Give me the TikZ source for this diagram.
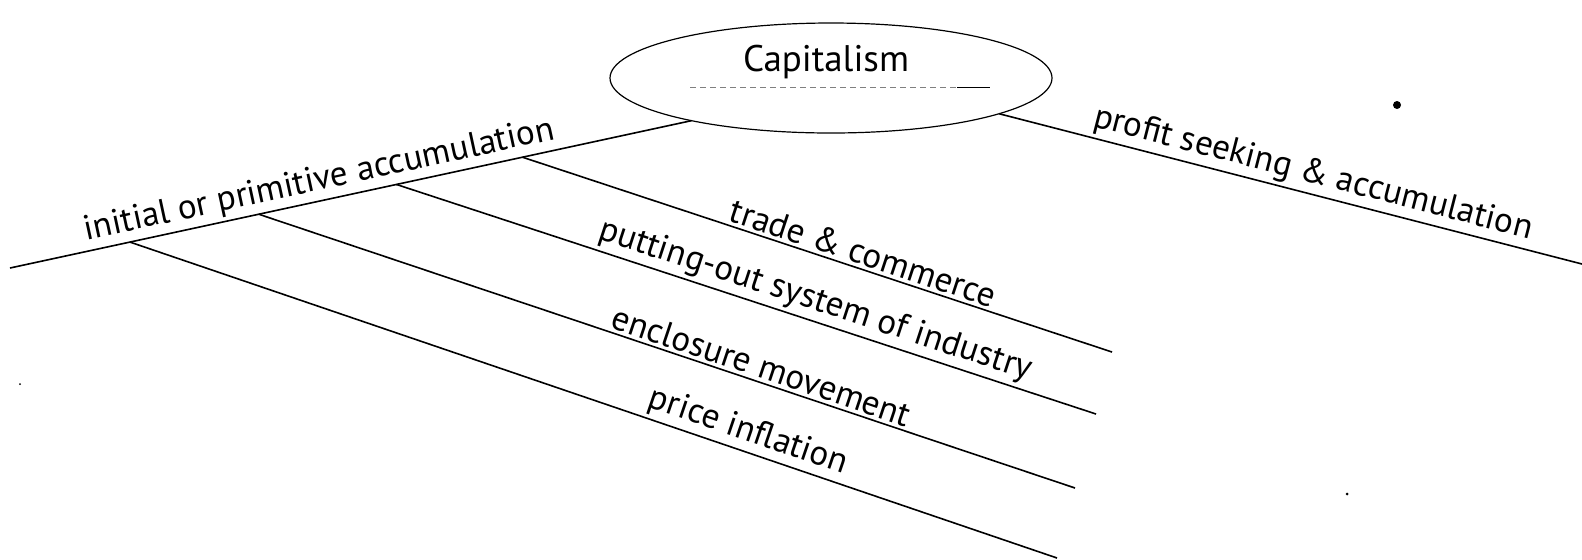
\documentclass[tikz,border=0pt]{standalone}
\usepackage{fontspec}
\setmainfont{PT Sans}
\usetikzlibrary{shapes.geometric}

\begin{document}
\begin{tikzpicture}[x = .5pt, y = -.5pt, line width = .8pt,
    every node/.style = {font = \fontsize{17.5}{20}\selectfont},
    lbl/.style = {sloped, above, inner sep = 1.5pt}]
    \useasboundingbox (0, 0) rectangle (1582, 559);

    \node (cap) [ellipse, draw, line width = .6pt, minimum width = 221pt, minimum height = 55pt, inner sep = 0pt, outer sep = 0pt] at (831, 78) {};
    \node (captext) at (826, 62) {\fontsize{18.5}{21}\selectfont Capitalism};
    \draw[densely dashed, line width = .4pt, gray] (690, 87) -- (957, 87);
    \draw[line width = .5pt] (957, 87) -- (990, 87);

    \coordinate (ia) at (10, 268);
    \coordinate (pr) at (1582, 264);

    % the two main limbs
    \draw (ia) -- (cap.197) node[lbl, pos = .46] {initial or primitive accumulation};
    \draw (cap.-12) -- (pr) node[lbl, pos = .53] {profit seeking \& accumulation};

    % roots of the branches on the left limb
    \path (ia) -- (cap.197)
        coordinate[pos = .752] (tc)
        coordinate[pos = .567] (po)
        coordinate[pos = .365] (em)
        coordinate[pos = .176] (pi);

    \coordinate (tcend) at (1112, 352);
    \coordinate (poend) at (1096, 414);
    \coordinate (emend) at (1075, 488);
    \coordinate (piend) at (1057, 558);

    \draw (tc) -- (tcend) node[lbl, pos = .57] {trade \& commerce};
    \draw (po) -- (poend) node[lbl, pos = .59] {putting-out system of industry};
    \draw (em) -- (emend) node[lbl, pos = .61] {enclosure movement};
    \draw (pi) -- (piend) node[lbl, pos = .66] {price inflation};

    % specks
    \fill (1397, 105) circle (4);
    \fill (1347, 494) circle (1.5);
    \fill (20, 384) circle (1);
\end{tikzpicture}
\end{document}
